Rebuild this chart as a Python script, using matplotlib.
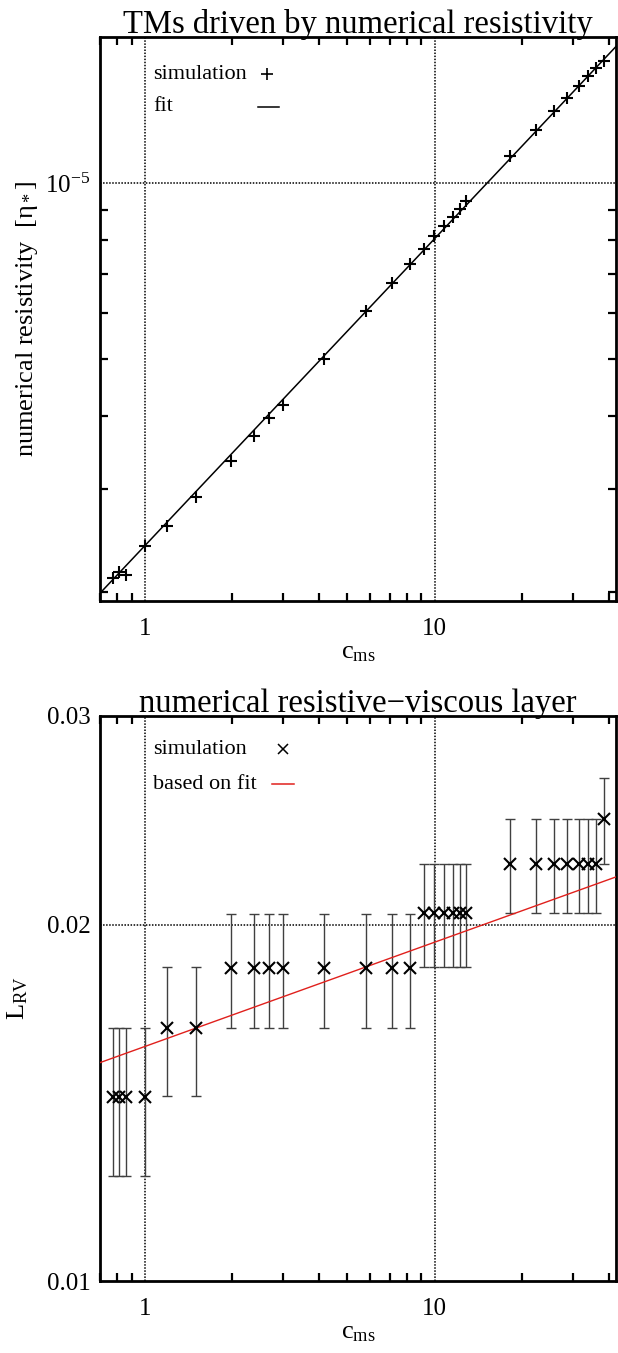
import matplotlib
matplotlib.use("Agg")
import matplotlib.pyplot as plt
from matplotlib.ticker import LogLocator, FixedLocator, NullLocator, FixedFormatter, NullFormatter

plt.rcParams['font.family'] = ['Liberation Serif', 'DejaVu Serif']
plt.rcParams['mathtext.fontset'] = 'custom'
plt.rcParams['mathtext.rm'] = 'Liberation Serif'
plt.rcParams['mathtext.it'] = 'Liberation Serif:italic'
plt.rcParams['mathtext.default'] = 'regular'

# ---------------- data ----------------
c_ms = [0.774, 0.811, 0.863, 1.0, 1.19, 1.50, 1.98, 2.37, 2.69, 2.99,
        4.14, 5.81, 7.10, 8.20, 9.16, 9.94, 10.77, 11.53, 12.23, 12.86,
        18.24, 22.36, 25.72, 28.5, 31.45, 33.9, 36.1, 38.3]
eta_num = [2.11e-6, 2.16e-6, 2.14e-6, 2.395e-6, 2.59e-6, 2.90e-6, 3.35e-6, 3.69e-6,
           3.96e-6, 4.17e-6, 5.01e-6, 6.03e-6, 6.75e-6, 7.28e-6, 7.72e-6, 8.11e-6,
           8.43e-6, 8.75e-6, 9.04e-6, 9.30e-6, 1.112e-5, 1.23e-5, 1.325e-5, 1.397e-5,
           1.465e-5, 1.522e-5, 1.573e-5, 1.614e-5]
fit_c = [0.7, 42.2]
fit_eta = [1.99e-6, 1.71e-5]

L_rv = [0.0143, 0.0143, 0.0143, 0.0143, 0.01636, 0.01636,
        0.01839, 0.01839, 0.01839, 0.01839, 0.01839, 0.01839, 0.01839, 0.01839,
        0.02047, 0.02047, 0.02047, 0.02047, 0.02047, 0.02047,
        0.0225, 0.0225, 0.0225, 0.0225, 0.0225, 0.0225, 0.0225, 0.02455]
L_err = [0.00204] * 28
fit_L = [0.01529, 0.02194]

xlim = (0.7, 42.2)
ylim_top = (1.93e-6, 1.775e-5)
ylim_bot = (0.01, 0.03)

x_major = [1, 10]
x_major_labels = ['1', '10']
top_y_major = [1e-5]
top_y_major_labels = [r'$10^{-5}$']
bot_y_major = [0.01, 0.02, 0.03]
bot_y_major_labels = ['0.01', '0.02', '0.03']

# ---------------- figure ----------------
W, H = 618, 1353
fig = plt.figure(figsize=(W / 100, H / 100), dpi=100)

def axrect(l, r, t, b):
    return [l / W, 1 - b / H, (r - l) / W, (b - t) / H]

ax1 = fig.add_axes(axrect(100, 616, 37, 601))
ax2 = fig.add_axes(axrect(100, 616, 716, 1281))

SPW = 2.0
TICKFS = 18
LABFS = 19
TITLEFS = 23.5
LEGFS = 16

def style(ax):
    for s in ax.spines.values():
        s.set_linewidth(SPW)
    ax.set_xscale('log')
    ax.set_xlim(*xlim)
    ax.xaxis.set_major_locator(FixedLocator(x_major))
    ax.xaxis.set_major_formatter(FixedFormatter(x_major_labels))
    ax.xaxis.set_minor_locator(LogLocator(base=10, subs=range(2, 10), numticks=20))
    ax.xaxis.set_minor_formatter(NullFormatter())
    ax.tick_params(axis='both', which='major', length=0, pad=12, labelsize=TICKFS)
    ax.tick_params(axis='y', which='major', pad=7)
    ax.tick_params(axis='both', which='minor', direction='in', length=6, width=1.6,
                   top=True, right=True)
    ax.tick_params(axis='x', which='major', top=False)
    for xv in x_major:
        ax.axvline(xv, color='black', lw=1.1, ls=(0, (1, 1)), zorder=1)

# ---------- top panel ----------
style(ax1)
ax1.set_yscale('log')
ax1.set_ylim(*ylim_top)
ax1.yaxis.set_major_locator(FixedLocator(top_y_major))
ax1.yaxis.set_major_formatter(FixedFormatter(top_y_major_labels))
ax1.yaxis.set_minor_locator(LogLocator(base=10, subs=range(2, 10), numticks=20))
ax1.yaxis.set_minor_formatter(NullFormatter())
for yv in top_y_major:
    ax1.axhline(yv, color='black', lw=1.1, ls=(0, (1, 1)), zorder=1)
ax1.plot(fit_c, fit_eta, color='black', lw=1.1, zorder=2)
ax1.plot(c_ms, eta_num, ls='none', marker='+', color='black', ms=9, mew=1.5, zorder=3)
ax1.set_title('TMs driven by numerical resistivity', fontsize=TITLEFS, pad=3)
ax1.set_xlabel(r'c$_{\rm ms}$', fontsize=LABFS, labelpad=2)
ax1.set_ylabel(r'numerical resistivity  [$\eta_*$]', fontsize=LABFS, labelpad=4)

# legend (manual, IDL style)
tr = ax1.transAxes
ax1.text(0.103, 0.934, 'simulation', transform=tr, fontsize=LEGFS, va='center', ha='left')
ax1.plot([0.324], [0.934], transform=tr, marker='+', color='black', ms=8, mew=1.2, ls='none')
ax1.text(0.103, 0.876, 'fit', transform=tr, fontsize=LEGFS, va='center', ha='left')
ax1.plot([0.306, 0.347], [0.876, 0.876], transform=tr, color='black', lw=1.1)

# ---------- bottom panel ----------
style(ax2)
ax2.set_yscale('log')
ax2.set_ylim(*ylim_bot)
ax2.yaxis.set_major_locator(FixedLocator(bot_y_major))
ax2.yaxis.set_major_formatter(FixedFormatter(bot_y_major_labels))
ax2.yaxis.set_minor_locator(NullLocator())
ax2.axhline(0.02, color='black', lw=1.1, ls=(0, (1, 1)), zorder=1)
ax2.errorbar(c_ms, L_rv, yerr=L_err, ls='none', ecolor='0.25', elinewidth=1.0,
             capsize=3.5, capthick=1.0, zorder=2)
ax2.plot(c_ms, L_rv, ls='none', marker='x', color='black', ms=8, mew=1.5, zorder=4)
ax2.plot(fit_c, fit_L, color='#e0201c', lw=1.0, zorder=3)
ax2.set_title('numerical resistive\u2212viscous layer', fontsize=TITLEFS, pad=3)
ax2.set_xlabel(r'c$_{\rm ms}$', fontsize=LABFS, labelpad=2)
ax2.set_ylabel(r'L$_{\rm RV}$', fontsize=LABFS, labelpad=12)

tr2 = ax2.transAxes
ax2.text(0.103, 0.941, 'simulation', transform=tr2, fontsize=LEGFS, va='center', ha='left')
ax2.plot([0.355], [0.941], transform=tr2, marker='x', color='black', ms=7, mew=1.1, ls='none')
ax2.text(0.103, 0.879, 'based on fit', transform=tr2, fontsize=LEGFS, va='center', ha='left')
ax2.plot([0.333, 0.376], [0.879, 0.879], transform=tr2, color='#e0201c', lw=1.1)

fig.savefig('out.png', dpi=100)
